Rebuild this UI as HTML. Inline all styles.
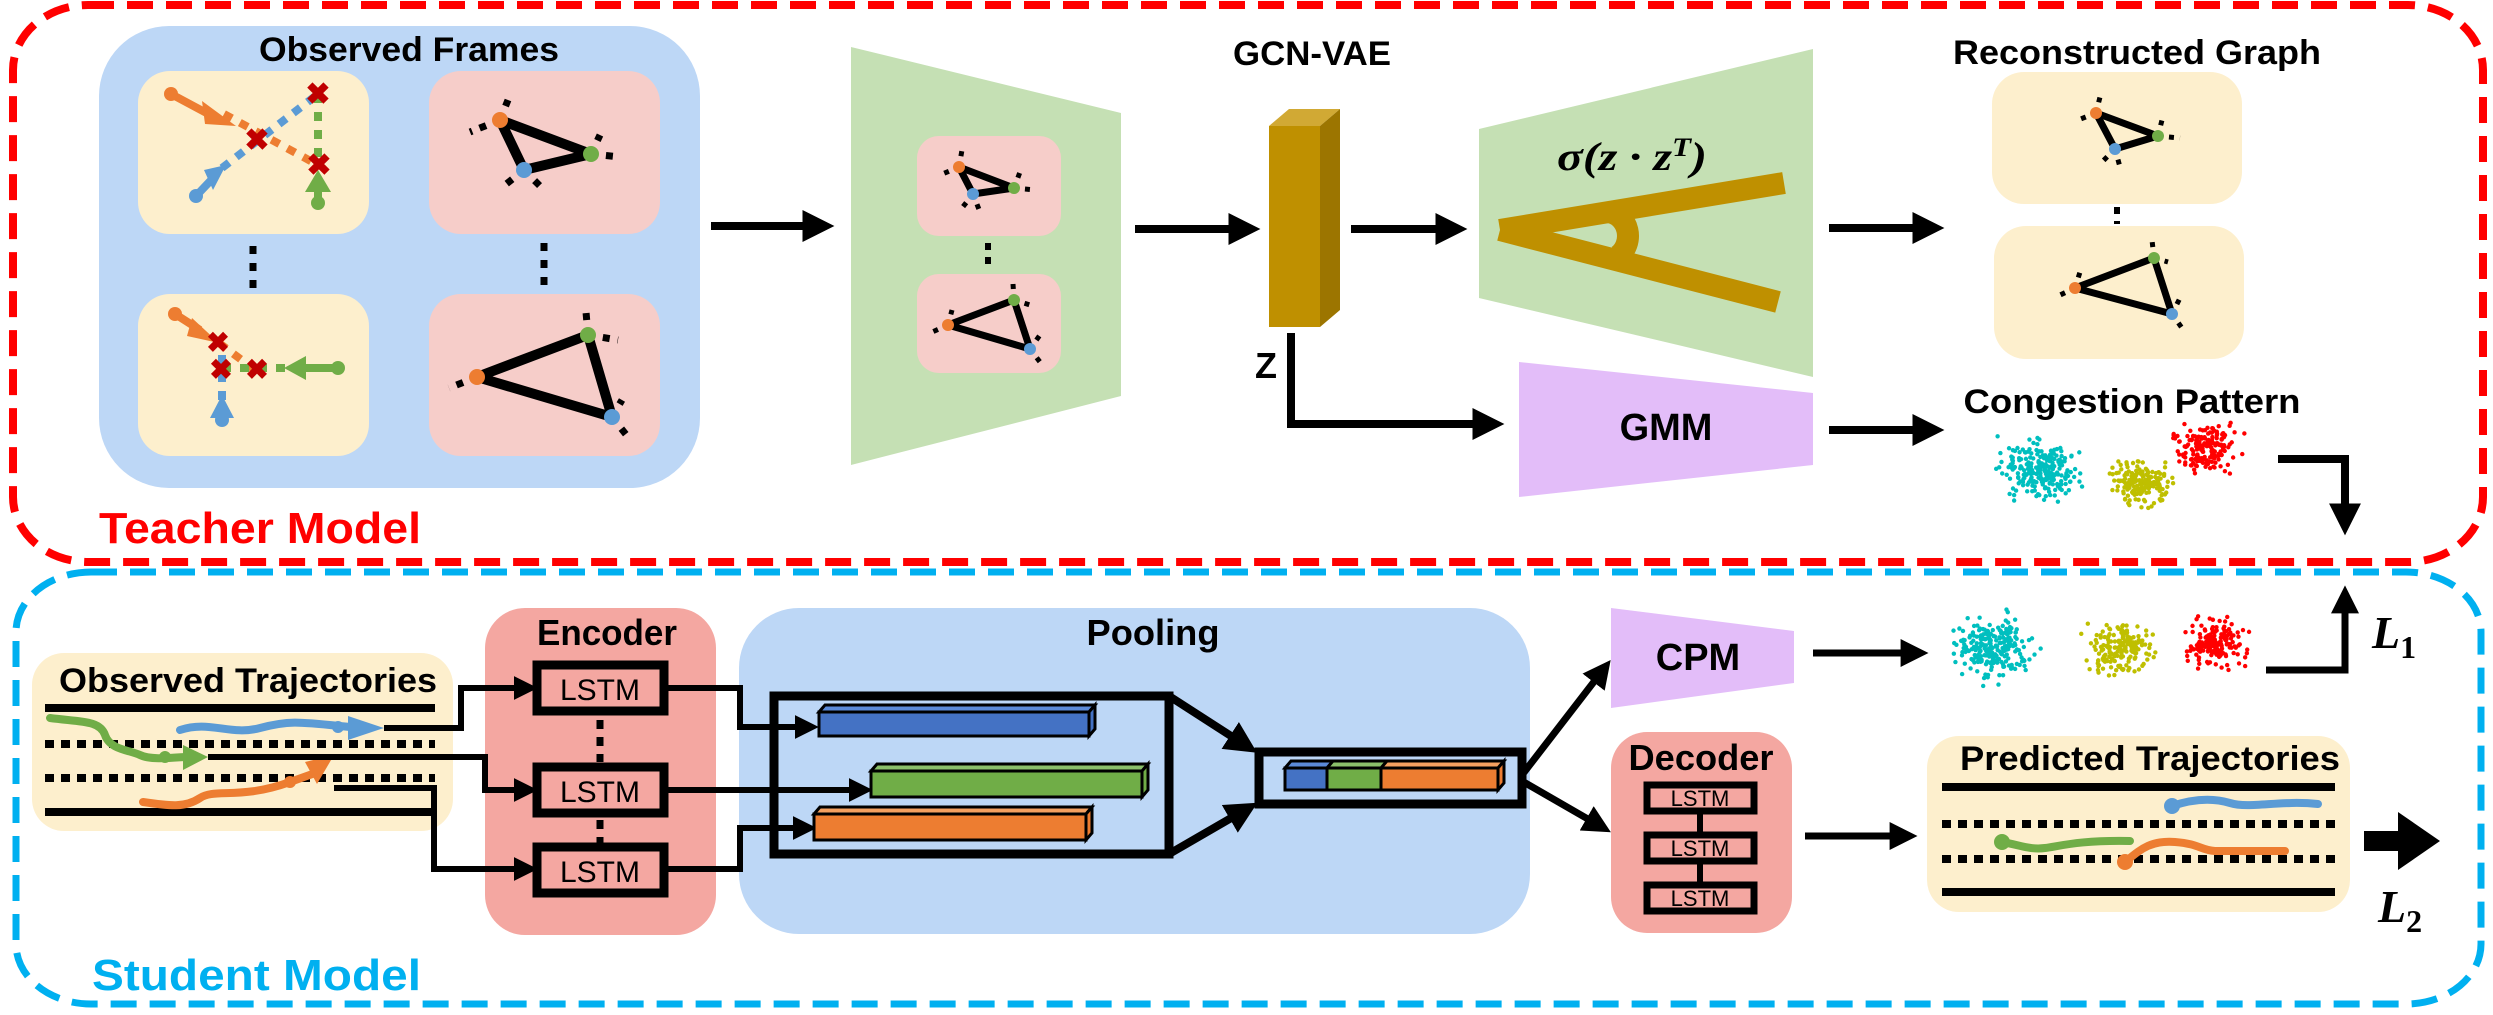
<!DOCTYPE html>
<html><head><meta charset="utf-8">
<style>
html,body{margin:0;padding:0;background:#fff;}
svg{display:block;}
text{font-family:"Liberation Sans",sans-serif;font-weight:bold;}
</style></head>
<body>
<svg id="s" width="2493" height="1015" viewBox="0 0 2493 1015" xmlns="http://www.w3.org/2000/svg">
<defs>
<marker id="ah" markerWidth="4" markerHeight="4" refX="2.2" refY="2" orient="auto" markerUnits="strokeWidth"><path d="M0,0 L4,2 L0,4 z" fill="#000"/></marker>
</defs>

<!-- borders -->
<rect x="13" y="5" width="2470" height="557" rx="75" ry="65" fill="none" stroke="#ff0000" stroke-width="8" stroke-dasharray="26 13"/>
<rect x="16" y="572" width="2465" height="432" rx="75" ry="60" fill="none" stroke="#00b0f0" stroke-width="7" stroke-dasharray="26 13"/>
<text x="99" y="543" font-size="44" fill="#ff0000" textLength="322" lengthAdjust="spacingAndGlyphs">Teacher Model</text>
<text x="92" y="990" font-size="44" fill="#00b0f0" textLength="329" lengthAdjust="spacingAndGlyphs">Student Model</text>

<!-- Observed Frames -->
<rect x="99" y="26" width="601" height="462" rx="70" fill="#bdd7f6"/>
<text x="409" y="61" font-size="34" text-anchor="middle" textLength="300" lengthAdjust="spacingAndGlyphs">Observed Frames</text>
<rect x="138" y="71" width="231" height="163" rx="32" fill="#fdefcd"/>
<rect x="138" y="294" width="231" height="162" rx="32" fill="#fdefcd"/>
<rect x="429" y="71" width="231" height="163" rx="32" fill="#f6cdc9"/>
<rect x="429" y="294" width="231" height="162" rx="32" fill="#f6cdc9"/>
<g stroke="#000" stroke-width="7" stroke-dasharray="8 9"><line x1="253" y1="246" x2="253" y2="292"/><line x1="544" y1="243" x2="544" y2="292"/></g>

<!-- frame 1 -->
<g stroke-width="8">
<line x1="224" y1="114" x2="318" y2="165" stroke="#ed7d31" stroke-dasharray="9 9"/>
<line x1="222" y1="168" x2="318" y2="94" stroke="#5b9bd5" stroke-dasharray="9 9"/>
<line x1="318" y1="94" x2="318" y2="165" stroke="#70ad47" stroke-dasharray="9 9"/>
<line x1="171" y1="94" x2="214" y2="117" stroke="#ed7d31"/>
<line x1="196" y1="196" x2="215" y2="176" stroke="#5b9bd5"/>
<line x1="318" y1="203" x2="318" y2="185" stroke="#70ad47"/>
</g>
<circle cx="171" cy="94" r="7" fill="#ed7d31"/><path d="M202,101 L236,126 L205,124 z" fill="#ed7d31"/>
<circle cx="196" cy="196" r="7" fill="#5b9bd5"/><path d="M204,170 L226,165 L213,190 z" fill="#5b9bd5"/>
<circle cx="318" cy="203" r="7" fill="#70ad47"/><path d="M305,192 L318,170 L331,192 z" fill="#70ad47"/>
<g fill="#c00000" font-size="30" text-anchor="middle"><text x="318" y="104">✖</text><text x="257" y="150">✖</text><text x="319" y="175">✖</text></g>
<!-- frame 3 -->
<g stroke-width="8">
<line x1="219" y1="343" x2="255" y2="370" stroke="#ed7d31" stroke-dasharray="9 9"/>
<line x1="222" y1="355" x2="222" y2="400" stroke="#5b9bd5" stroke-dasharray="9 9"/>
<line x1="222" y1="368" x2="290" y2="368" stroke="#70ad47" stroke-dasharray="9 9"/>
<line x1="175" y1="314" x2="200" y2="330" stroke="#ed7d31"/>
<line x1="300" y1="368" x2="338" y2="368" stroke="#70ad47"/>
</g>
<circle cx="175" cy="314" r="7" fill="#ed7d31"/><path d="M192,318 L219,343 L187,336 z" fill="#ed7d31"/>
<circle cx="338" cy="368" r="7" fill="#70ad47"/><path d="M306,356 L284,368 L306,380 z" fill="#70ad47"/>
<circle cx="222" cy="420" r="7" fill="#5b9bd5"/><path d="M210,418 L222,395 L234,418 z" fill="#5b9bd5"/>
<g fill="#c00000" font-size="28" text-anchor="middle"><text x="218" y="352">✖</text><text x="221" y="379">✖</text><text x="257" y="379">✖</text></g>

<!-- big triangles -->
<g stroke="#000" stroke-width="10" fill="none" stroke-linejoin="round">
<path d="M500,120 L591,154 L524,170 z"/>
<path d="M477,377 L588,335 L612,417 z"/>
</g>
<g stroke="#000" stroke-width="7" stroke-dasharray="7 8">
<line x1="500" y1="120" x2="470" y2="132"/><line x1="500" y1="120" x2="508" y2="100"/><line x1="591" y1="154" x2="620" y2="157"/><line x1="591" y1="154" x2="600" y2="135"/><line x1="524" y1="170" x2="505" y2="185"/><line x1="524" y1="170" x2="540" y2="186"/>
<line x1="477" y1="377" x2="449" y2="388"/><line x1="477" y1="377" x2="476" y2="362"/><line x1="588" y1="335" x2="618" y2="340"/><line x1="588" y1="335" x2="586" y2="312"/><line x1="612" y1="417" x2="628" y2="437"/><line x1="612" y1="417" x2="622" y2="400"/>
</g>
<g>
<circle cx="500" cy="120" r="8" fill="#ed7d31"/><circle cx="591" cy="154" r="8" fill="#70ad47"/><circle cx="524" cy="170" r="8" fill="#5b9bd5"/>
<circle cx="477" cy="377" r="8" fill="#ed7d31"/><circle cx="588" cy="335" r="8" fill="#70ad47"/><circle cx="612" cy="417" r="8" fill="#5b9bd5"/>
</g>

<!-- arrows teacher -->
<g stroke="#000" stroke-width="8" fill="none">
<line x1="711" y1="226" x2="820" y2="226" marker-end="url(#ah)"/>
<line x1="1135" y1="229" x2="1246" y2="229" marker-end="url(#ah)"/>
<line x1="1351" y1="229" x2="1453" y2="229" marker-end="url(#ah)"/>
<line x1="1829" y1="228" x2="1930" y2="228" marker-end="url(#ah)"/>
<line x1="1829" y1="430" x2="1930" y2="430" marker-end="url(#ah)"/>
<polyline points="1291,333 1291,424 1490,424" marker-end="url(#ah)"/>
<polyline points="2278,459 2345,459 2345,521" marker-end="url(#ah)"/>
</g>

<!-- GCN-VAE -->
<polygon points="851,47 1121,113 1121,396 851,465" fill="#c5e0b4"/>
<rect x="917" y="136" width="144" height="100" rx="22" fill="#f6cdc9"/>
<rect x="917" y="274" width="144" height="99" rx="22" fill="#f6cdc9"/>
<g stroke="#000" stroke-width="6" stroke-dasharray="7 7"><line x1="988" y1="243" x2="988" y2="270"/><line x1="2117" y1="207" x2="2117" y2="224"/></g>
<g stroke="#000" stroke-width="7" fill="none" stroke-linejoin="round"><path d="M959,167 L1014,188 L973,194 z"/><path d="M948,325 L1014,300 L1030,349 z"/></g>
<g stroke="#000" stroke-width="5" stroke-dasharray="5 6">
<line x1="959" y1="167" x2="940" y2="175"/><line x1="959" y1="167" x2="962" y2="150"/><line x1="1014" y1="188" x2="1035" y2="190"/><line x1="1014" y1="188" x2="1020" y2="172"/><line x1="973" y1="194" x2="980" y2="212"/><line x1="973" y1="194" x2="962" y2="208"/><line x1="1014" y1="300" x2="1030" y2="305"/><line x1="1014" y1="300" x2="1013" y2="284"/><line x1="948" y1="325" x2="930" y2="333"/><line x1="948" y1="325" x2="952" y2="310"/><line x1="1030" y1="349" x2="1040" y2="362"/><line x1="1030" y1="349" x2="1040" y2="335"/>
</g>
<g><circle cx="959" cy="167" r="6" fill="#ed7d31"/><circle cx="1014" cy="188" r="6" fill="#70ad47"/><circle cx="973" cy="194" r="6" fill="#5b9bd5"/><circle cx="948" cy="325" r="6" fill="#ed7d31"/><circle cx="1014" cy="300" r="6" fill="#70ad47"/><circle cx="1030" cy="349" r="6" fill="#5b9bd5"/></g>
<text x="1312" y="65" font-size="34" text-anchor="middle" textLength="158" lengthAdjust="spacingAndGlyphs">GCN-VAE</text>
<polygon points="1269,126 1289,109 1340,109 1320,126" fill="#d1a934"/>
<polygon points="1320,126 1340,109 1340,310 1320,327" fill="#9c7500"/>
<rect x="1269" y="126" width="51" height="201" fill="#bf9000"/>
<text x="1266" y="378" font-size="36" text-anchor="middle">Z</text>

<polygon points="1479,129 1813,49 1813,377 1479,298" fill="#c5e0b4"/>
<text x="1632" y="170" font-size="40" font-style="italic" text-anchor="middle" style="font-family:'Liberation Serif',serif" textLength="150" lengthAdjust="spacingAndGlyphs">σ(z · z<tspan dy="-14" font-size="26">T</tspan><tspan dy="14">)</tspan></text>
<g stroke="#bf9000" stroke-width="22" fill="none">
<line x1="1500" y1="230" x2="1784" y2="183"/>
<line x1="1500" y1="230" x2="1778" y2="302"/>
<path d="M1608,212 A22,24 0 0 1 1618,256"/>
</g>

<polygon points="1519,362 1813,393 1813,465 1519,497" fill="#e3bdf9"/>
<text x="1666" y="440" font-size="38" text-anchor="middle">GMM</text>

<!-- Reconstructed -->
<text x="2137" y="64" font-size="34" text-anchor="middle" textLength="368" lengthAdjust="spacingAndGlyphs">Reconstructed Graph</text>
<rect x="1992" y="72" width="250" height="132" rx="32" fill="#fdefcd"/>
<rect x="1994" y="226" width="250" height="133" rx="32" fill="#fdefcd"/>
<g stroke="#000" stroke-width="7" fill="none" stroke-linejoin="round"><path d="M2096,113 L2158,136 L2115,149 z"/><path d="M2075,288 L2154,258 L2172,314 z"/></g>
<g stroke="#000" stroke-width="5" stroke-dasharray="5 6">
<line x1="2096" y1="113" x2="2078" y2="120"/><line x1="2158" y1="136" x2="2180" y2="138"/><line x1="2158" y1="136" x2="2162" y2="120"/><line x1="2115" y1="149" x2="2120" y2="167"/><line x1="2115" y1="149" x2="2102" y2="162"/><line x1="2154" y1="258" x2="2168" y2="262"/><line x1="2075" y1="288" x2="2058" y2="296"/><line x1="2075" y1="288" x2="2080" y2="272"/><line x1="2172" y1="314" x2="2182" y2="328"/><line x1="2172" y1="314" x2="2180" y2="298"/><line x1="2154" y1="258" x2="2152" y2="240"/><line x1="2096" y1="113" x2="2100" y2="97"/>
</g>
<g><circle cx="2096" cy="113" r="6" fill="#ed7d31"/><circle cx="2158" cy="136" r="6" fill="#70ad47"/><circle cx="2115" cy="149" r="6" fill="#5b9bd5"/><circle cx="2075" cy="288" r="6" fill="#ed7d31"/><circle cx="2154" cy="258" r="6" fill="#70ad47"/><circle cx="2172" cy="314" r="6" fill="#5b9bd5"/></g>
<text x="2132" y="413" font-size="34" text-anchor="middle" textLength="337" lengthAdjust="spacingAndGlyphs">Congestion Pattern</text>
<g id="clusters"></g>

<!-- Student: Observed trajectories -->
<rect x="32" y="653" width="421" height="178" rx="32" fill="#fdefcd"/>
<text x="248" y="692" font-size="34" text-anchor="middle" textLength="378" lengthAdjust="spacingAndGlyphs">Observed Trajectories</text>
<g stroke="#000" stroke-width="8">
<line x1="45" y1="708" x2="435" y2="708"/><line x1="45" y1="812" x2="435" y2="812"/>
<line x1="45" y1="744" x2="435" y2="744" stroke-dasharray="9 7"/><line x1="45" y1="778" x2="435" y2="778" stroke-dasharray="9 7"/>
</g>
<g fill="none" stroke-width="8" stroke-linecap="round">
<path d="M180,730 C210,720 230,736 260,728 S300,722 350,727" stroke="#5b9bd5"/>
<path d="M50,718 C80,722 100,720 105,735 S130,750 140,755 S170,758 185,757" stroke="#70ad47"/>
<path d="M143,802 C170,806 185,808 200,798 S240,800 290,782 L318,772" stroke="#ed7d31"/>
</g>
<path d="M348,716 L384,728 L348,740 z" fill="#5b9bd5"/><circle cx="338" cy="727" r="6" fill="#5b9bd5"/>
<path d="M183,745 L208,757 L183,770 z" fill="#70ad47"/><circle cx="165" cy="757" r="6" fill="#70ad47"/>
<path d="M305,762 L334,755 L317,784 z" fill="#ed7d31"/><circle cx="290" cy="782" r="6" fill="#ed7d31"/>

<!-- Encoder -->
<rect x="485" y="608" width="231" height="327" rx="40" fill="#f4a7a1"/>
<text x="607" y="645" font-size="36" text-anchor="middle" textLength="140" lengthAdjust="spacingAndGlyphs">Encoder</text>
<g fill="none" stroke="#000" stroke-width="9">
<rect x="537" y="665" width="127" height="46"/><rect x="537" y="767" width="127" height="46"/><rect x="537" y="847" width="127" height="46"/>
</g>
<g font-size="30" text-anchor="middle"><text x="600" y="700" style="font-weight:normal">LSTM</text><text x="600" y="802" style="font-weight:normal">LSTM</text><text x="600" y="882" style="font-weight:normal">LSTM</text></g>
<g stroke="#000" stroke-width="7" stroke-dasharray="9 8"><line x1="600" y1="720" x2="600" y2="762"/><line x1="600" y1="820" x2="600" y2="843"/></g>

<!-- Pooling -->
<rect x="739" y="608" width="791" height="326" rx="60" fill="#bdd7f6"/>
<text x="1153" y="645" font-size="36" text-anchor="middle" textLength="133" lengthAdjust="spacingAndGlyphs">Pooling</text>
<g stroke="#000" stroke-width="6" fill="none">
<polyline points="384,728 461,728 461,688 527,688" marker-end="url(#ah)"/>
<polyline points="208,757 485,757 485,790 527,790" marker-end="url(#ah)"/>
<polyline points="334,788 434,788 434,869 527,869" marker-end="url(#ah)"/>
<polyline points="668,688 740,688 740,727 808,727" marker-end="url(#ah)"/>
<line x1="668" y1="790" x2="862" y2="790" marker-end="url(#ah)"/>
<polyline points="668,869 740,869 740,828 806,828" marker-end="url(#ah)"/>
</g>
<polygon points="774,696 1169,696 1169,854 774,854" fill="none" stroke="#000" stroke-width="9"/>
<g stroke="#000" stroke-width="8" fill="none">
<line x1="1169" y1="696" x2="1245" y2="745" marker-end="url(#ah)"/>
<line x1="1169" y1="854" x2="1245" y2="810" marker-end="url(#ah)"/>
</g>
<rect x="1259" y="752" width="263" height="52" fill="none" stroke="#000" stroke-width="9"/>
<!-- bars -->
<g stroke="#000" stroke-width="3">
<polygon points="819,712 825,705 1095,705 1089,712" fill="#5b8ad8"/><polygon points="1089,712 1095,705 1095,729 1089,736" fill="#4472c4"/><rect x="819" y="712" width="270" height="24" fill="#4472c4"/>
<polygon points="871,771 877,764 1148,764 1142,771" fill="#8bc06a"/><polygon points="1142,771 1148,764 1148,790 1142,797" fill="#70ad47"/><rect x="871" y="771" width="271" height="26" fill="#70ad47"/>
<polygon points="814,814 820,807 1092,807 1086,814" fill="#f4a060"/><polygon points="1086,814 1092,807 1092,833 1086,840" fill="#ed7d31"/><rect x="814" y="814" width="272" height="26" fill="#ed7d31"/>
<polygon points="1285,768 1291,761 1333,761 1327,768" fill="#5b8ad8"/><polygon points="1327,768 1333,761 1387,761 1381,768" fill="#8bc06a"/><polygon points="1381,768 1387,761 1504,761 1498,768" fill="#f4a060"/>
<rect x="1285" y="768" width="42" height="22" fill="#4472c4"/><rect x="1327" y="768" width="54" height="22" fill="#70ad47"/><rect x="1381" y="768" width="117" height="22" fill="#ed7d31"/>
<polygon points="1498,768 1504,761 1504,783 1498,790" fill="#ed7d31"/>
</g>

<!-- CPM & decoder -->
<g stroke="#000" stroke-width="7" fill="none">
<line x1="1522" y1="775" x2="1603" y2="670" marker-end="url(#ah)"/>
<line x1="1522" y1="781" x2="1600" y2="826" marker-end="url(#ah)"/>
<line x1="1813" y1="653" x2="1916" y2="653" marker-end="url(#ah)"/>
<line x1="1805" y1="836" x2="1905" y2="836" marker-end="url(#ah)"/>
<polyline points="2266,670 2345,670 2345,598" marker-end="url(#ah)"/>
</g>
<polygon points="1611,608 1794,631 1794,683 1611,708" fill="#e3bdf9"/>
<text x="1698" y="670" font-size="38" text-anchor="middle">CPM</text>
<rect x="1611" y="732" width="181" height="201" rx="36" fill="#f4a7a1"/>
<text x="1701" y="770" font-size="36" text-anchor="middle" textLength="145" lengthAdjust="spacingAndGlyphs">Decoder</text>
<g fill="none" stroke="#000" stroke-width="7">
<rect x="1647" y="785" width="107" height="26"/><rect x="1647" y="835" width="107" height="26"/><rect x="1647" y="885" width="107" height="26"/>
</g>
<g stroke="#000" stroke-width="6"><line x1="1700" y1="811" x2="1700" y2="835"/><line x1="1700" y1="861" x2="1700" y2="885"/></g>
<g font-size="22" text-anchor="middle"><text x="1700" y="806" style="font-weight:normal">LSTM</text><text x="1700" y="856" style="font-weight:normal">LSTM</text><text x="1700" y="906" style="font-weight:normal">LSTM</text></g>

<!-- Predicted -->
<rect x="1927" y="736" width="423" height="176" rx="32" fill="#fdefcd"/>
<text x="2150" y="770" font-size="34" text-anchor="middle" textLength="380" lengthAdjust="spacingAndGlyphs">Predicted Trajectories</text>
<g stroke="#000" stroke-width="8">
<line x1="1942" y1="787" x2="2335" y2="787"/><line x1="1942" y1="892" x2="2335" y2="892"/>
<line x1="1942" y1="824" x2="2335" y2="824" stroke-dasharray="9 7"/><line x1="1942" y1="859" x2="2335" y2="859" stroke-dasharray="9 7"/>
</g>
<g fill="none" stroke-width="8" stroke-linecap="round">
<path d="M2172,806 C2190,800 2210,797 2230,803 S2280,800 2318,804" stroke="#5b9bd5"/>
<path d="M2002,842 C2020,845 2030,850 2045,848 S2080,840 2130,841" stroke="#70ad47"/>
<path d="M2125,862 C2140,850 2150,840 2175,842 S2200,850 2215,851 L2285,851" stroke="#ed7d31"/>
</g>
<circle cx="2172" cy="806" r="8" fill="#5b9bd5"/><circle cx="2002" cy="842" r="8" fill="#70ad47"/><circle cx="2125" cy="862" r="8" fill="#ed7d31"/>
<polygon points="2364,831 2398,831 2398,812 2440,841 2398,870 2398,851 2364,851" fill="#000"/>

<text x="2372" y="648" font-size="46" font-style="italic" style="font-family:'Liberation Serif',serif">L<tspan dy="10" font-size="32" font-style="normal">1</tspan></text>
<text x="2378" y="922" font-size="46" font-style="italic" style="font-family:'Liberation Serif',serif">L<tspan dy="10" font-size="32" font-style="normal">2</tspan></text>
</svg>
<script>
(function(){
var g=document.getElementById('clusters');var seed=7;
function r(){seed=(seed*16807)%2147483647;return seed/2147483647;}
function gs(){return (r()+r()+r()-1.5)/0.5;}
function cl(cx,cy,sx,sy,col,n){for(var i=0;i<n;i++){var c=document.createElementNS('http://www.w3.org/2000/svg','circle');c.setAttribute('cx',cx+gs()*sx);c.setAttribute('cy',cy+gs()*sy);c.setAttribute('r',2.2);c.setAttribute('fill',col);g.appendChild(c);}}
cl(2040,470,17,13,'#00bfbf',240);cl(2140,482,14,10,'#bfbf00',180);cl(2206,448,14,11,'#ff0000',180);
cl(1992,648,18,14,'#00bfbf',240);cl(2120,648,15,12,'#bfbf00',180);cl(2216,644,14,11,'#ff0000',180);
})();
</script>
</body></html>
